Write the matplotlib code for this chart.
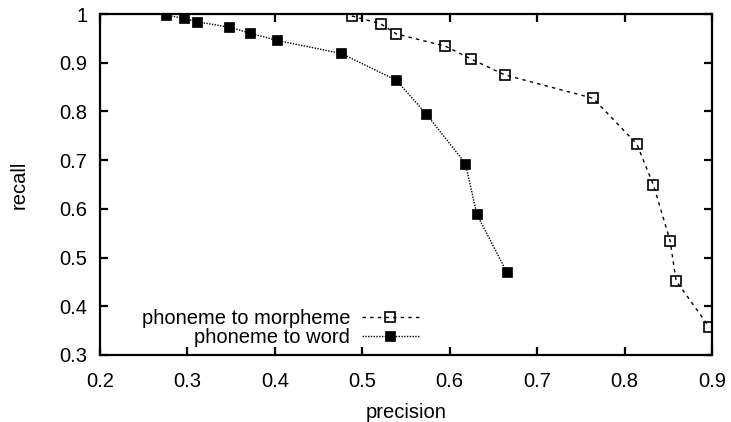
import matplotlib
matplotlib.use("Agg")
import matplotlib.pyplot as plt

plt.rcParams['font.family'] = ['Liberation Sans', 'DejaVu Sans']

# phoneme to morpheme (open squares, dashed)
morph_precision = [0.488, 0.521, 0.539, 0.595, 0.624, 0.663, 0.764, 0.814, 0.833, 0.852, 0.859, 0.897]
morph_recall    = [0.996, 0.980, 0.959, 0.934, 0.908, 0.875, 0.827, 0.733, 0.649, 0.535, 0.452, 0.357]

# phoneme to word (filled squares, dotted)
word_precision = [0.275, 0.296, 0.311, 0.348, 0.371, 0.402, 0.476, 0.539, 0.573, 0.618, 0.631, 0.665]
word_recall    = [0.998, 0.991, 0.984, 0.973, 0.961, 0.946, 0.919, 0.864, 0.795, 0.693, 0.589, 0.471]

x_ticks = [0.2, 0.3, 0.4, 0.5, 0.6, 0.7, 0.8, 0.9]
y_ticks = [0.3, 0.4, 0.5, 0.6, 0.7, 0.8, 0.9, 1.0]
y_ticklabels = ["0.3", "0.4", "0.5", "0.6", "0.7", "0.8", "0.9", "1"]

FS = 14.5

fig = plt.figure(figsize=(7.31, 4.22), dpi=100)
ax = fig.add_axes([0.1368, 0.1588, 0.8372, 0.808])

ax.plot(morph_precision, morph_recall, color='black', linewidth=1.0,
        linestyle=(0, (2.5, 3)), marker='s', markersize=7,
        markerfacecolor='none', markeredgecolor='black', markeredgewidth=1.2,
        label='phoneme to morpheme')
ax.plot(word_precision, word_recall, color='black', linewidth=1.0,
        linestyle=(0, (1, 1)), marker='s', markersize=7.6,
        markerfacecolor='black', markeredgecolor='black', markeredgewidth=0.5,
        label='phoneme to word')

ax.set_xlim(0.2, 0.9)
ax.set_ylim(0.3, 1.0)
ax.set_xticks(x_ticks)
ax.set_xticklabels([f"{v:g}" for v in x_ticks])
ax.set_yticks(y_ticks)
ax.set_yticklabels(y_ticklabels)

for s in ax.spines.values():
    s.set_linewidth(1.6)
ax.tick_params(direction='in', length=6, width=1.6, top=True, right=True,
               labelsize=FS)
ax.tick_params(axis='x', pad=12)
ax.tick_params(axis='y', pad=9)

ax.set_xlabel('precision', fontsize=FS, labelpad=9)
ax.set_ylabel('recall', fontsize=FS, labelpad=22)

leg = ax.legend(loc='lower left', bbox_to_anchor=(0.055, 0.0), markerfirst=False,
                frameon=False, fontsize=FS, handlelength=2.8, handletextpad=0.6,
                labelspacing=0.0, borderaxespad=0.0)

fig.savefig('out.png', dpi=100)
